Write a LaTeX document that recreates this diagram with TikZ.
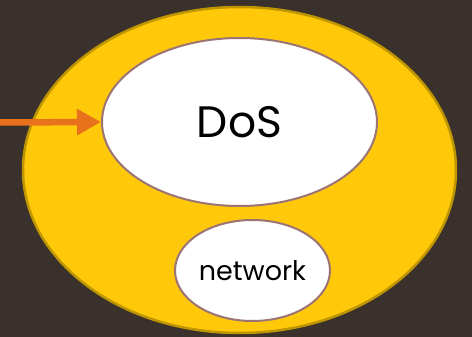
\documentclass[tikz,border=0pt]{standalone}
\usepackage{fontspec}
\setmainfont{Poppins}
\usepackage{tikz}
\usetikzlibrary{arrows.meta,positioning,shapes.geometric}
\definecolor{bgbrown}{HTML}{3A312C}
\definecolor{goldfill}{HTML}{FFC90A}
\definecolor{goldline}{HTML}{BF9600}
\definecolor{mauveline}{HTML}{9C7474}
\definecolor{arrorange}{HTML}{E8721C}
\tikzset{
  outerset/.style = {draw=goldline, fill=goldfill, line width=2.5pt, ellipse,
                     inner sep=0pt},
  innerset/.style = {draw=mauveline, fill=white, line width=2pt, ellipse,
                     inner sep=0pt, align=center},
  sig/.style      = {-{Triangle[length=24pt,width=25pt]}, line width=6.5pt,
                     draw=arrorange},
}

\begin{document}
\begin{tikzpicture}[x=1pt,y=-1pt]
\fill[bgbrown] (0,0) rectangle (472,337);
\useasboundingbox (0,0) rectangle (472,337);
\node[outerset,minimum width=433pt,minimum height=326pt] (world) at (239.5,170) {};
\node[innerset,minimum width=275pt,minimum height=168pt,font=\fontsize{44}{48}\selectfont] (dos) at (239.5,122) {DoS};
\node[innerset,minimum width=155pt,minimum height=101pt,font=\fontsize{27}{30}\selectfont] (net) at (252.5,270.5) {network};
\coordinate (src) at (0,122.5);
\draw[sig] (src) -- (dos.west);
\end{tikzpicture}
\end{document}
